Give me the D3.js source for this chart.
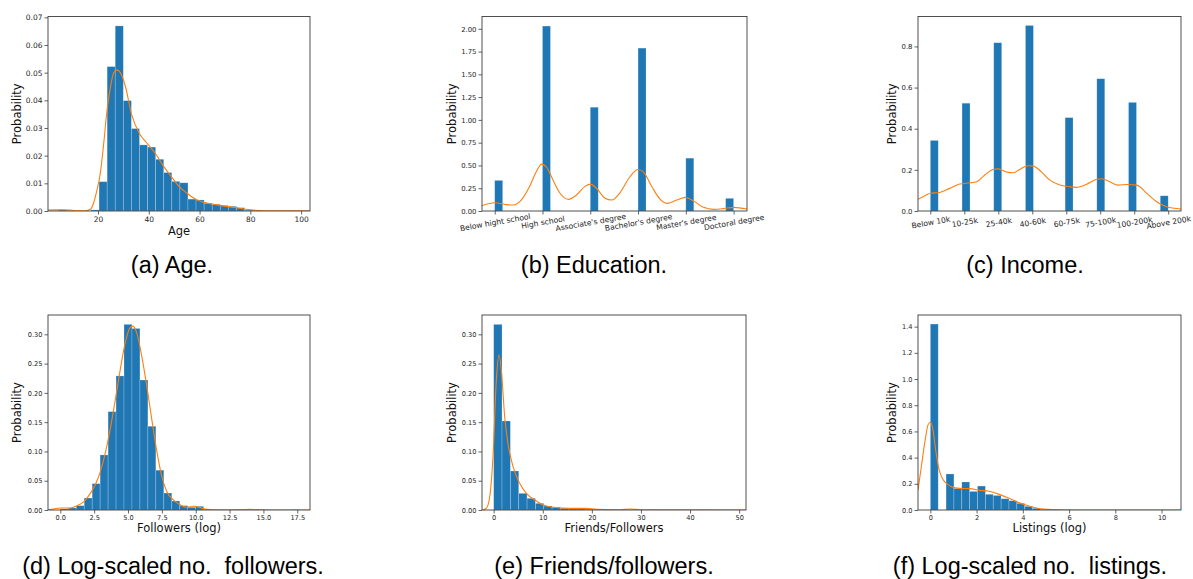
<!DOCTYPE html>
<html>
<head>
<meta charset="utf-8">
<script src="https://cdn.jsdelivr.net/npm/d3@7"></script>
<style>
  body { margin: 0; background: #fff; }
  svg { display: block; font-family: 'DejaVu Sans', sans-serif; }
  .caption { font-family: 'Liberation Sans', Arial, sans-serif; font-size: 23.5px; fill: #000; white-space: pre; }
</style>
</head>
<body>
<svg id="chart" width="1193" height="579"></svg>
<script>
// ---------------- data ----------------

// (a) Age : 30 bins from 4.5 to 100
const ageBinStart = 4.5;
const ageBinWidth = 3.183;
const ageHist = [0.0004, 0, 0, 0, 0.0004, 0.0106, 0.0522, 0.0669, 0.0399, 0.0298,
  0.0239, 0.0231, 0.0187, 0.0139, 0.0107, 0.0102, 0.0043, 0.0040, 0.0028, 0.0024,
  0.0020, 0.0017, 0.0012, 0.0003, 0.0001, 0, 0, 0, 0, 0.0001];
const ageKdeX = [0.3, 3, 6, 9, 12, 15, 17, 18.3, 19.6, 20.9, 22.2, 23.5, 24.9, 26.2, 27.5, 28.8,
  30.8, 33.2, 36.3, 39.4, 42.6, 45.7, 48.9, 52.0, 55.1, 58.3, 61.3, 66.8, 73.4, 80, 85, 90, 95, 103.5];
const ageKdeY = [0.0003, 0.0004, 0.0004, 0.0003, 0.0001, 0.0001, 0.0006, 0.003, 0.0076, 0.0136,
  0.024, 0.036, 0.0448, 0.050, 0.051, 0.050, 0.045, 0.035, 0.028, 0.0244, 0.0208, 0.0163,
  0.0124, 0.0088, 0.0064, 0.0043, 0.0032, 0.0022, 0.0013, 0.0004, 0.0001, 0.0001, 0.0001, 0.0001];

// (b) Education : categories coded 0..5, 30 bins
const eduCats = ['Below hight school', 'High school', "Associate's degree", "Bachelor's degree", "Master's degree", 'Doctoral degree'];
const eduHist = [0.336, 2.03, 1.139, 1.788, 0.58, 0.139];
const eduKdeX = [-0.266, 0, 0.245, 0.385, 0.52, 0.73, 0.87, 0.98, 1.08, 1.22, 1.36, 1.54, 1.71, 1.89,
  2.0, 2.13, 2.31, 2.45, 2.62, 2.83, 3.0, 3.11, 3.29, 3.46, 3.6, 3.81, 3.99, 4.16, 4.37, 4.58, 4.79, 5.0, 5.28];
const eduKdeY = [0.058, 0.09, 0.07, 0.066, 0.10, 0.27, 0.43, 0.515, 0.485, 0.34, 0.2, 0.128, 0.175,
  0.27, 0.295, 0.25, 0.14, 0.12, 0.2, 0.376, 0.456, 0.43, 0.266, 0.13, 0.084, 0.12, 0.15, 0.11,
  0.04, 0.018, 0.026, 0.04, 0.022];

// (c) Income : categories coded 0..7, 30 bins
const incomeCats = ['Below 10k', '10-25k', '25-40k', '40-60k', '60-75k', '75-100k', '100-200k', 'Above 200k'];
const incomeHist = [0.343, 0.524, 0.818, 0.902, 0.454, 0.643, 0.528, 0.074];
const incomeKdeX = [-0.363, -0.12, 0, 0.275, 0.57, 0.86, 1.16, 1.36, 1.6, 1.85, 2.0, 2.24, 2.44, 2.63,
  2.88, 3.03, 3.27, 3.52, 3.81, 4.1, 4.3, 4.6, 4.89, 5.04, 5.28, 5.53, 5.78, 6.07, 6.37, 6.66, 6.95, 7.377];
const incomeKdeY = [0.057, 0.078, 0.086, 0.09, 0.11, 0.131, 0.137, 0.142, 0.175, 0.202, 0.205, 0.19,
  0.186, 0.202, 0.22, 0.218, 0.19, 0.15, 0.126, 0.118, 0.115, 0.13, 0.154, 0.157, 0.142, 0.126,
  0.129, 0.126, 0.086, 0.045, 0.021, 0.01];

// (d) Followers (log)
const followersBinStart = 0;
const followersBinWidth = 0.588;
const followersHist = [0.002, 0.0035, 0.0074, 0.0205, 0.045, 0.094, 0.168, 0.229, 0.317, 0.310,
  0.222, 0.143, 0.068, 0.029, 0.0154, 0.0074, 0.0046, 0.0063, 0.001, 0, 0, 0, 0, 0.001, 0, 0, 0, 0, 0, 0.0003];
const followersKdeX = [-0.91, -0.49, 0, 0.74, 1.23, 1.72, 2.21, 2.58, 2.95, 3.32, 3.69, 4.06, 4.42, 4.79,
  5.16, 5.36, 5.65, 6.02, 6.39, 6.76, 7.13, 7.5, 7.87, 8.36, 8.85, 9.34, 9.88, 10.32, 10.82, 12, 13.5,
  14, 14.5, 16, 18.44];
const followersKdeY = [0.0005, 0.0017, 0.0034, 0.0034, 0.0074, 0.014, 0.028, 0.043, 0.065, 0.097, 0.139,
  0.188, 0.239, 0.285, 0.312, 0.314, 0.302, 0.262, 0.211, 0.154, 0.0996, 0.057, 0.031, 0.017, 0.0091,
  0.0046, 0.0063, 0.004, 0.0011, 0.0002, 0.0008, 0.0012, 0.0008, 0.0001, 0.0001];

// (e) Friends/Followers
const ratioBinStart = 0;
const ratioBinWidth = 1.7;
const ratioHist = [0.317, 0.152, 0.0666, 0.0285, 0.020, 0.0114, 0.0068, 0.0046, 0.003, 0.002, 0.002,
  0.0015, 0.001, 0.001, 0.0008, 0.0005, 0.0005, 0.0003, 0.0003, 0.0002, 0, 0, 0, 0, 0, 0, 0, 0, 0, 0.0001];
const ratioKdeX = [-2.38, -1.5, -0.8, -0.14, 0.54, 1.09, 1.56, 2.24, 2.9, 3.95, 5.3, 6.7, 8.4, 10.1,
  12.1, 15.5, 18.9, 21, 25.7, 27.8, 29.8, 35, 51.4];
const ratioKdeY = [0, 0.003, 0.023, 0.091, 0.222, 0.265, 0.239, 0.159, 0.114, 0.074, 0.0455, 0.028,
  0.017, 0.0085, 0.0046, 0.0028, 0.0028, 0.001, 0.0005, 0.0017, 0.0005, 0.0002, 0.0001];

// (f) Listings (log)
const listingsBinStart = 0;
const listingsBinWidth = 0.34;
const listingsHist = [1.42, 0, 0.275, 0.164, 0.214, 0.142, 0.183, 0.12, 0.111, 0.086, 0.071, 0.051,
  0.028, 0.013, 0.005, 0.0025, 0.001, 0.0005, 0.0003, 0.0002, 0.0001, 0, 0, 0, 0, 0, 0, 0, 0, 0.0001];
const listingsKdeX = [-0.534, -0.39, -0.245, -0.1, 0, 0.115, 0.23, 0.35, 0.48, 0.66, 0.91, 1.27, 1.7,
  2.14, 2.5, 2.86, 3.3, 3.72, 4.16, 4.59, 5.02, 5.6, 7, 10.84];
const listingsKdeY = [0.153, 0.33, 0.51, 0.65, 0.67, 0.61, 0.46, 0.33, 0.255, 0.209, 0.178, 0.165,
  0.163, 0.15, 0.145, 0.127, 0.097, 0.064, 0.036, 0.015, 0.005, 0.001, 0.0003, 0.0001];

// tick values
const ageYTicks = [0, 0.01, 0.02, 0.03, 0.04, 0.05, 0.06, 0.07];
const ageXTicks = [20, 40, 60, 80, 100];
const eduYTicks = [0, 0.25, 0.5, 0.75, 1.0, 1.25, 1.5, 1.75, 2.0];
const incomeYTicks = [0, 0.2, 0.4, 0.6, 0.8];
const followersYTicks = [0, 0.05, 0.10, 0.15, 0.20, 0.25, 0.30];
const followersXTicks = [0, 2.5, 5, 7.5, 10, 12.5, 15, 17.5];
const ratioYTicks = [0, 0.05, 0.10, 0.15, 0.20, 0.25, 0.30];
const ratioXTicks = [0, 10, 20, 30, 40, 50];
const listingsYTicks = [0, 0.2, 0.4, 0.6, 0.8, 1.0, 1.2, 1.4];
const listingsXTicks = [0, 2, 4, 6, 8, 10];

const captions = ['(a) Age.', '(b) Education.', '(c) Income.',
  '(d) Log-scaled no.  followers.', '(e) Friends/followers.', '(f) Log-scaled no.  listings.'];

// ---------------- helpers ----------------
const svg = d3.select('#chart');
const blue = '#1f77b4';
const orange = '#ff7f0e';
const spine = '#3d3d3d';

function evenBins(start, width, values) {
  return values.map((v, i) => ({ x0: start + i * width, x1: start + (i + 1) * width, v: v }));
}

// categorical codes 0..n-1 put into 30 equal bins over [0, n-1]
function codeBins(values, nBins) {
  const maxCode = values.length - 1;
  const w = maxCode / nBins;
  return values.map((v, k) => {
    const idx = Math.min(nBins - 1, Math.floor(k * nBins / maxCode + 1e-9));
    return { x0: idx * w, x1: (idx + 1) * w, v: v };
  });
}

function panel(o) {
  const g = svg.append('g');
  const x = d3.scaleLinear().domain(o.xDomain).range([o.left, o.right]);
  const y = d3.scaleLinear().domain(o.yDomain).range([o.bottom, o.top]);

  const clipId = 'clip-' + o.id;
  svg.append('clipPath').attr('id', clipId)
    .append('rect')
    .attr('x', o.left).attr('y', o.top)
    .attr('width', o.right - o.left).attr('height', o.bottom - o.top);

  const plot = g.append('g').attr('clip-path', `url(#${clipId})`);

  plot.selectAll('rect.bar')
    .data(o.bars.filter(d => d.v > 0))
    .join('rect')
    .attr('class', 'bar')
    .attr('x', d => x(d.x0))
    .attr('width', d => x(d.x1) - x(d.x0))
    .attr('y', d => y(d.v))
    .attr('height', d => y(0) - y(d.v))
    .attr('fill', blue)
    .attr('stroke', '#ffffff')
    .attr('stroke-opacity', 0.3)
    .attr('stroke-width', 0.7);

  const line = d3.line()
    .x(d => x(d[0]))
    .y(d => y(d[1]))
    .curve(d3.curveMonotoneX);

  plot.append('path')
    .datum(d3.zip(o.kdeX, o.kdeY))
    .attr('d', line)
    .attr('fill', 'none')
    .attr('stroke', orange)
    .attr('stroke-width', 1.1);

  // y axis
  const ya = g.append('g')
    .attr('transform', `translate(${o.left},0)`)
    .call(d3.axisLeft(y).tickValues(o.yTicks).tickFormat(d3.format(o.yFmt)).tickSize(3.5).tickPadding(2));
  ya.select('.domain').remove();
  ya.attr('font-size', o.tickFont).attr('font-family', null);
  ya.selectAll('line').attr('stroke', spine).attr('stroke-width', 0.8);
  ya.selectAll('text').attr('fill', '#262626');

  // x axis
  let xa;
  if (o.cats) {
    xa = g.append('g')
      .attr('transform', `translate(0,${o.bottom})`)
      .call(d3.axisBottom(x).tickValues(d3.range(o.cats.length)).tickFormat(i => o.cats[i]).tickSize(3.5));
    xa.selectAll('text')
      .attr('y', null).attr('dy', null)
      .attr('text-anchor', 'middle')
      .attr('dominant-baseline', 'central')
      .attr('transform', 'translate(0,11.5) rotate(-10)');
    xa.attr('font-size', o.xTickFont);
  } else {
    xa = g.append('g')
      .attr('transform', `translate(0,${o.bottom})`)
      .call(d3.axisBottom(x).tickValues(o.xTicks).tickFormat(d3.format(o.xFmt)).tickSize(3.5).tickPadding(2));
    xa.attr('font-size', o.tickFont);
  }
  xa.select('.domain').remove();
  xa.attr('font-family', null);
  xa.selectAll('line').attr('stroke', spine).attr('stroke-width', 0.8);
  xa.selectAll('text').attr('fill', '#262626');

  // frame
  g.append('rect')
    .attr('x', o.left).attr('y', o.top)
    .attr('width', o.right - o.left).attr('height', o.bottom - o.top)
    .attr('fill', 'none')
    .attr('stroke', spine)
    .attr('stroke-width', 0.9);

  // axis titles
  g.append('text')
    .attr('transform', `translate(${o.left - o.yTitleGap},${(o.top + o.bottom) / 2}) rotate(-90)`)
    .attr('text-anchor', 'middle')
    .attr('dominant-baseline', 'central')
    .attr('font-size', 11.5)
    .attr('fill', '#111')
    .text('Probability');

  if (o.xTitle) {
    g.append('text')
      .attr('x', (o.left + o.right) / 2)
      .attr('y', o.bottom + o.xTitleGap)
      .attr('text-anchor', 'middle')
      .attr('font-size', 11.5)
      .attr('fill', '#111')
      .text(o.xTitle);
  }

  svg.append('text')
    .attr('class', 'caption')
    .attr('x', o.capX)
    .attr('y', o.capY)
    .attr('text-anchor', 'middle')
    .text(o.caption);
}

// ---------------- panels ----------------
const topRow = { top: 16.5, bottom: 211, capY: 273 };
const botRow = { top: 315, bottom: 510, capY: 574 };

panel({
  id: 'a', left: 48, right: 310, top: topRow.top, bottom: topRow.bottom,
  xDomain: [0.3, 103.5], yDomain: [0, 0.0703],
  bars: evenBins(ageBinStart, ageBinWidth, ageHist),
  kdeX: ageKdeX, kdeY: ageKdeY,
  yTicks: ageYTicks, yFmt: '.2f', xTicks: ageXTicks, xFmt: 'd',
  tickFont: 7.5, yTitleGap: 31, xTitle: 'Age', xTitleGap: 24,
  caption: captions[0], capX: 172, capY: topRow.capY
});

panel({
  id: 'b', left: 482, right: 747, top: topRow.top, bottom: topRow.bottom,
  xDomain: [-0.266, 5.28], yDomain: [0, 2.135],
  bars: codeBins(eduHist, 30),
  kdeX: eduKdeX, kdeY: eduKdeY,
  yTicks: eduYTicks, yFmt: '.2f', cats: eduCats,
  tickFont: 6.9, xTickFont: 7.6, yTitleGap: 30,
  caption: captions[1], capX: 594, capY: topRow.capY
});

panel({
  id: 'c', left: 918, right: 1181, top: topRow.top, bottom: topRow.bottom,
  xDomain: [-0.363, 7.377], yDomain: [0, 0.9455],
  bars: codeBins(incomeHist, 30),
  kdeX: incomeKdeX, kdeY: incomeKdeY,
  yTicks: incomeYTicks, yFmt: '.1f', cats: incomeCats,
  tickFont: 6.9, xTickFont: 7.6, yTitleGap: 26,
  caption: captions[2], capX: 1025, capY: topRow.capY
});

panel({
  id: 'd', left: 48, right: 310, top: botRow.top, bottom: botRow.bottom,
  xDomain: [-0.91, 18.44], yDomain: [0, 0.333],
  bars: evenBins(followersBinStart, followersBinWidth, followersHist),
  kdeX: followersKdeX, kdeY: followersKdeY,
  yTicks: followersYTicks, yFmt: '.2f', xTicks: followersXTicks, xFmt: '.1f',
  tickFont: 6.6, yTitleGap: 31, xTitle: 'Followers (log)', xTitleGap: 22,
  caption: captions[3], capX: 173, capY: botRow.capY
});

panel({
  id: 'e', left: 482, right: 746, top: botRow.top, bottom: botRow.bottom,
  xDomain: [-2.38, 51.4], yDomain: [0, 0.333],
  bars: evenBins(ratioBinStart, ratioBinWidth, ratioHist),
  kdeX: ratioKdeX, kdeY: ratioKdeY,
  yTicks: ratioYTicks, yFmt: '.2f', xTicks: ratioXTicks, xFmt: 'd',
  tickFont: 6.6, yTitleGap: 30, xTitle: 'Friends/Followers', xTitleGap: 22,
  caption: captions[4], capX: 604, capY: botRow.capY
});

panel({
  id: 'f', left: 918, right: 1181, top: botRow.top, bottom: botRow.bottom,
  xDomain: [-0.534, 10.84], yDomain: [0, 1.489],
  bars: evenBins(listingsBinStart, listingsBinWidth, listingsHist),
  kdeX: listingsKdeX, kdeY: listingsKdeY,
  yTicks: listingsYTicks, yFmt: '.1f', xTicks: listingsXTicks, xFmt: 'd',
  tickFont: 6.6, yTitleGap: 26, xTitle: 'Listings (log)', xTitleGap: 22,
  caption: captions[5], capX: 1030, capY: botRow.capY
});
</script>
</body>
</html>
